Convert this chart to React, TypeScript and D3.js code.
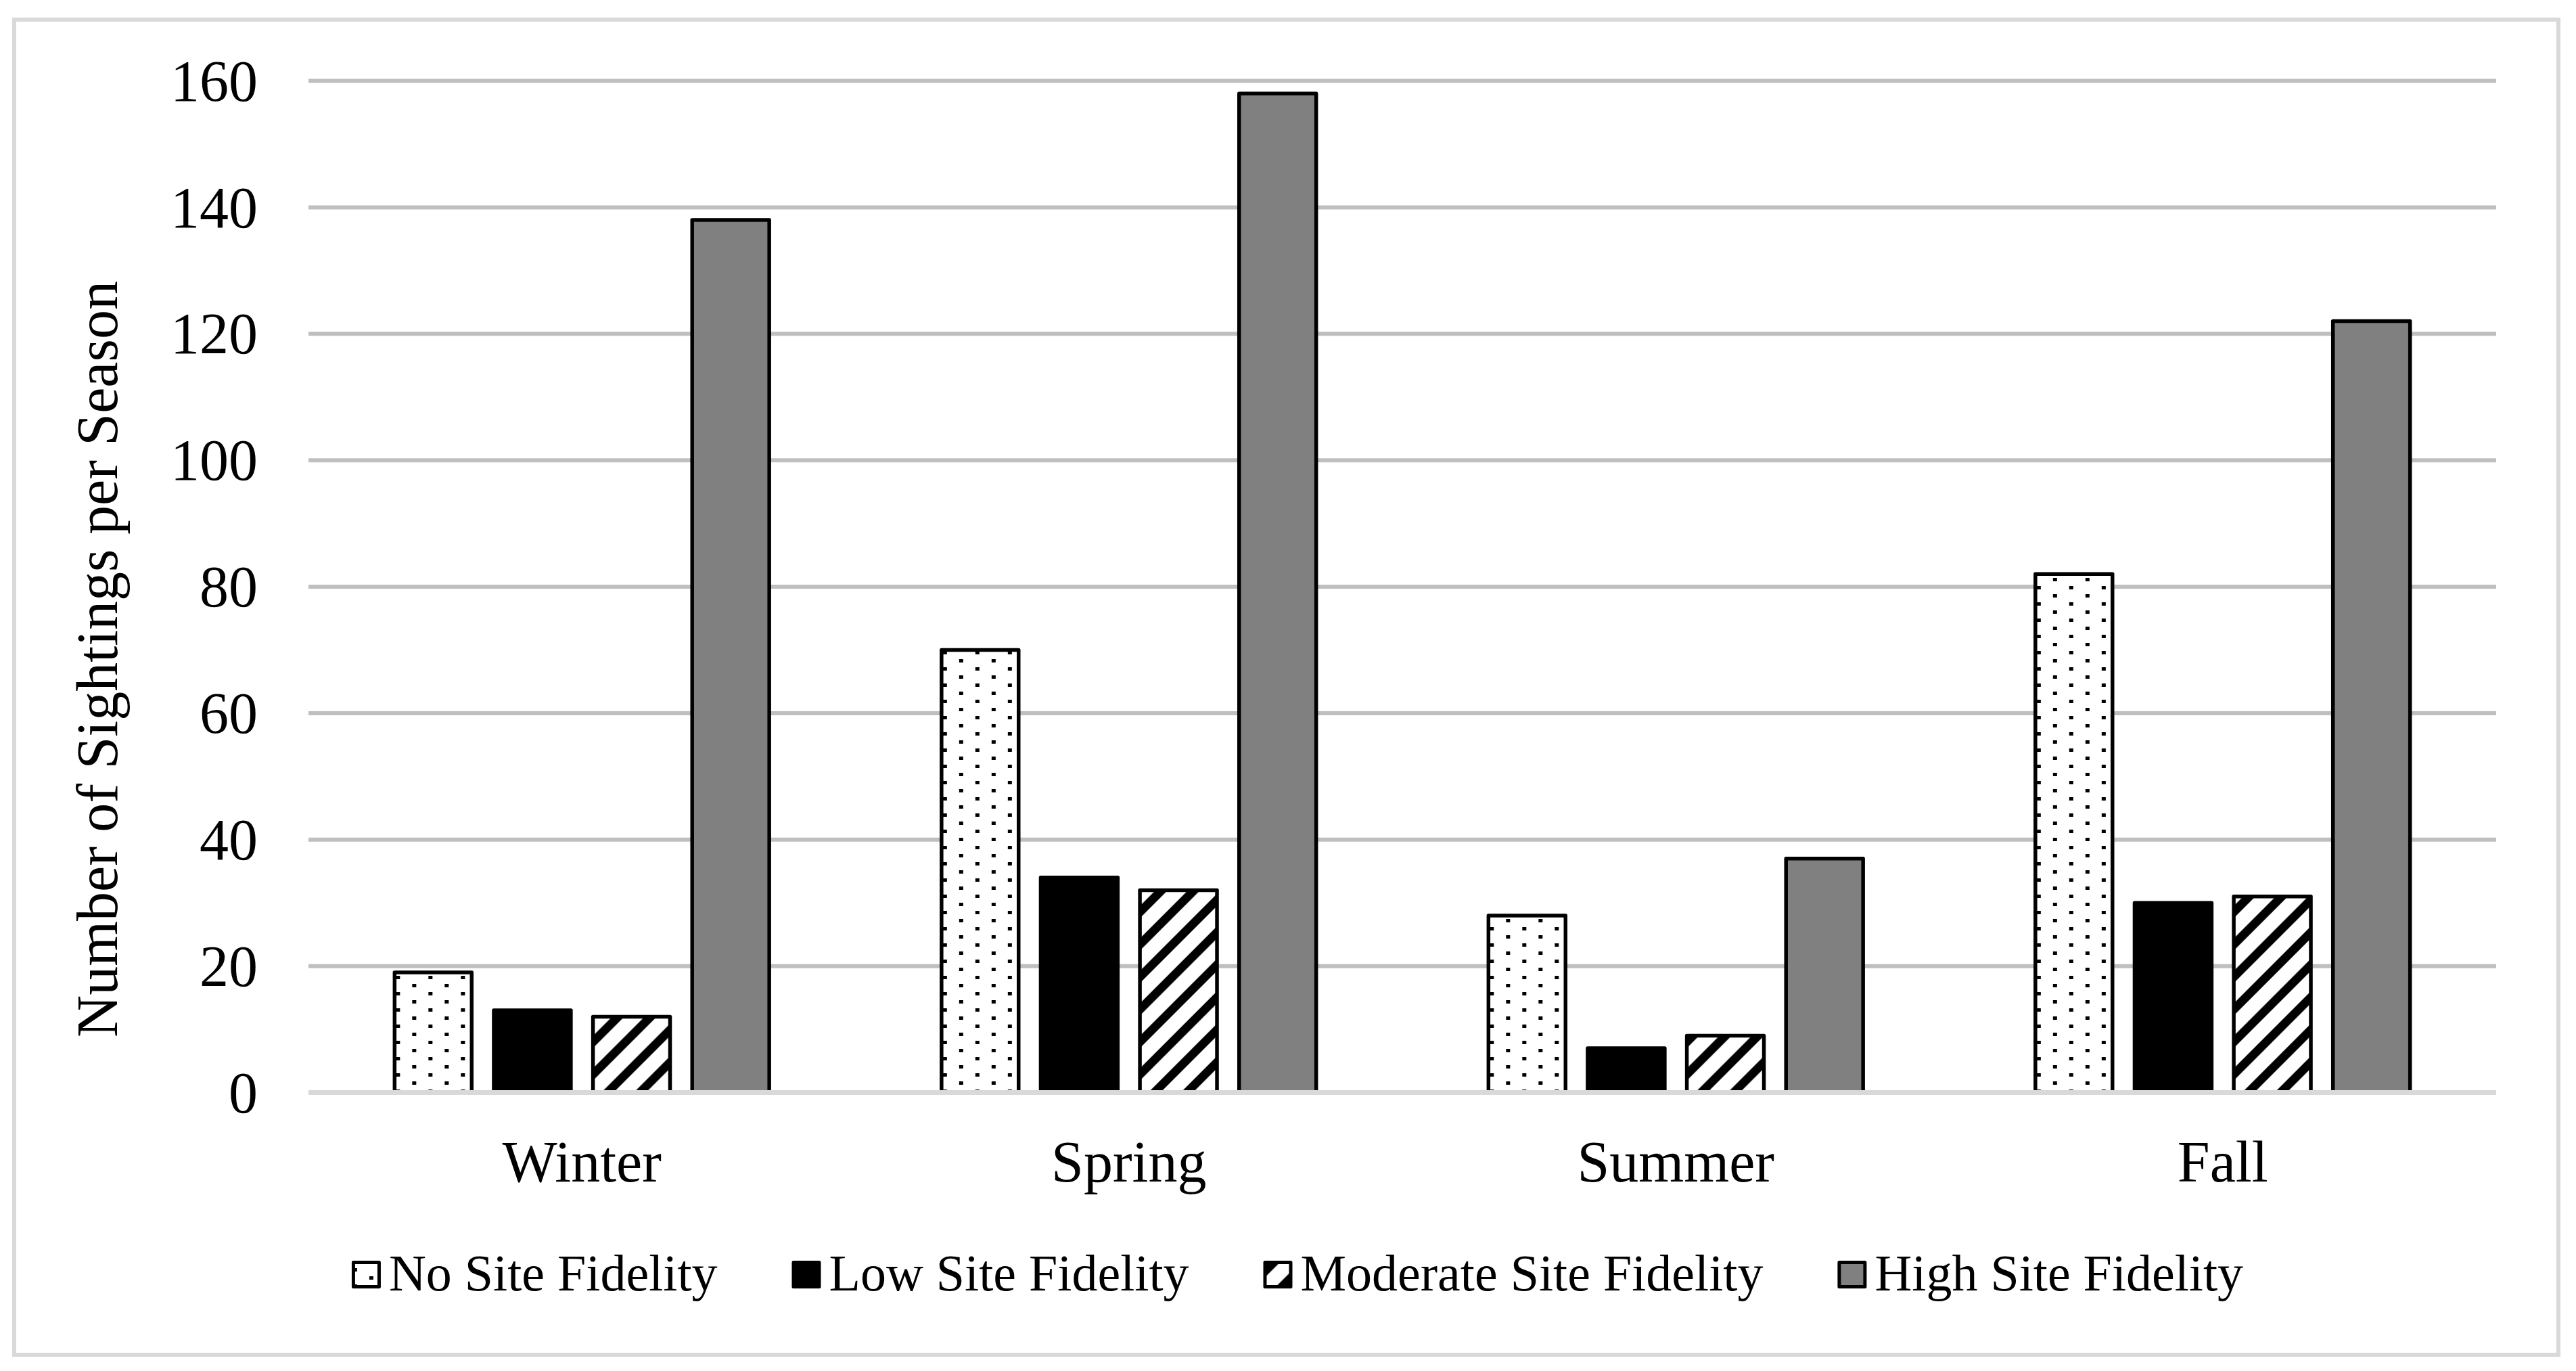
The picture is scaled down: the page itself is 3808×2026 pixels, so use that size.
import { useEffect, useRef } from 'react'
import * as d3 from 'd3'

// chart data
const seasons = ['Winter', 'Spring', 'Summer', 'Fall']
const seriesNames = ['No Site Fidelity', 'Low Site Fidelity', 'Moderate Site Fidelity', 'High Site Fidelity']
const noFidelity = [19, 70, 28, 82]
const lowFidelity = [13, 34, 7, 30]
const moderateFidelity = [12, 32, 9, 31]
const highFidelity = [138, 158, 37, 122]
const yTicks = [0, 20, 40, 60, 80, 100, 120, 140, 160]
const yTitle = 'Number of Sightings per Season'

const seriesValues = [noFidelity, lowFidelity, moderateFidelity, highFidelity]
const seriesFills = ['url(#dots)', '#000000', 'url(#hatch)', '#808080']

const width = 3808
const height = 2026
const font = '"Liberation Serif", "Times New Roman", serif'

export default function App() {
  const svgRef = useRef<SVGSVGElement>(null)

  useEffect(() => {
    document.body.style.margin = '0'
    if (!svgRef.current) return
    const svg = d3.select(svgRef.current)
    svg.selectAll('*').remove()

    const plot = { left: 456, right: 3690, top: 119.5, bottom: 1614.5 }

    // patterns
    const defs = svg.append('defs')
    const dots = defs
      .append('pattern')
      .attr('id', 'dots')
      .attr('patternUnits', 'userSpaceOnUse')
      .attr('width', 48)
      .attr('height', 24)
    dots.append('rect').attr('width', 48).attr('height', 24).attr('fill', '#fff')
    dots.append('rect').attr('x', 2).attr('y', 2).attr('width', 6).attr('height', 5).attr('fill', '#000')
    dots.append('rect').attr('x', 26).attr('y', 14).attr('width', 6).attr('height', 5).attr('fill', '#000')

    const hatch = defs
      .append('pattern')
      .attr('id', 'hatch')
      .attr('patternUnits', 'userSpaceOnUse')
      .attr('width', 48)
      .attr('height', 48)
    hatch.append('rect').attr('width', 48).attr('height', 48).attr('fill', '#fff')
    hatch.append('path').attr('d', 'M0,0 L18,0 L0,18 Z').attr('fill', '#000')
    hatch.append('path').attr('d', 'M48,0 L48,18 L18,48 L0,48 Z').attr('fill', '#000')

    // background + chart border
    svg.append('rect').attr('width', width).attr('height', height).attr('fill', '#fff')
    svg
      .append('rect')
      .attr('x', 21)
      .attr('y', 29)
      .attr('width', 3761)
      .attr('height', 1973)
      .attr('fill', '#fff')
      .attr('stroke', '#d9d9d9')
      .attr('stroke-width', 6)

    // Scales
    const y = d3.scaleLinear().domain([0, 160]).range([plot.bottom, plot.top])
    const x0 = d3
      .scaleBand<string>()
      .domain(seasons)
      .range([plot.left, plot.right])
      .paddingInner(0.315)
      .paddingOuter(0.1575)
    const x1 = d3
      .scaleBand<number>()
      .domain(d3.range(seriesNames.length))
      .range([0, x0.bandwidth()])
      .paddingInner(0.223)

    // gridlines
    svg
      .append('g')
      .selectAll('line')
      .data(yTicks.filter((t) => t > 0))
      .join('line')
      .attr('x1', plot.left)
      .attr('x2', plot.right)
      .attr('y1', (d) => y(d))
      .attr('y2', (d) => y(d))
      .attr('stroke', '#bfbfbf')
      .attr('stroke-width', 6)

    // tick labels
    svg
      .append('g')
      .selectAll('text')
      .data(yTicks)
      .join('text')
      .attr('x', 381)
      .attr('y', (d) => y(d))
      .attr('dy', '0.34em')
      .attr('text-anchor', 'end')
      .attr('font-family', font)
      .attr('font-size', 86)
      .attr('fill', '#000')
      .text((d) => d)

    // bars
    const groups = svg
      .append('g')
      .selectAll('g')
      .data(seasons)
      .join('g')
      .attr('transform', (d) => `translate(${x0(d)},0)`)

    groups
      .selectAll('rect')
      .data((_, i) => seriesValues.map((vals, s) => ({ s, v: vals[i] })))
      .join('rect')
      .attr('x', (d) => x1(d.s)!)
      .attr('width', x1.bandwidth())
      .attr('y', (d) => y(d.v))
      .attr('height', (d) => y(0) - y(d.v))
      .attr('fill', (d) => seriesFills[d.s])
      .attr('stroke', '#000')
      .attr('stroke-width', 5.5)
      .attr('stroke-linejoin', 'round')

    // x axis line
    svg
      .append('line')
      .attr('x1', plot.left)
      .attr('x2', plot.right)
      .attr('y1', y(0))
      .attr('y2', y(0))
      .attr('stroke', '#d9d9d9')
      .attr('stroke-width', 7)

    // category labels
    svg
      .append('g')
      .selectAll('text')
      .data(seasons)
      .join('text')
      .attr('x', (d) => x0(d)! + x0.bandwidth() / 2)
      .attr('y', 1746)
      .attr('text-anchor', 'middle')
      .attr('font-family', font)
      .attr('font-size', 86)
      .attr('fill', '#000')
      .text((d) => d)

    // y axis title
    svg
      .append('text')
      .attr('transform', 'translate(173,974) rotate(-90)')
      .attr('text-anchor', 'middle')
      .attr('font-family', font)
      .attr('font-size', 86)
      .attr('fill', '#000')
      .text(yTitle)

    // legend
    const legend = svg.append('g')
    const markerSize = 38
    const markerGap = 17
    const itemGap = 110
    let cursor = 0
    const items = seriesNames.map((name, i) => {
      const item = legend.append('g').attr('transform', `translate(${cursor},0)`)
      item
        .append('rect')
        .attr('x', 2.5)
        .attr('y', 1865.5)
        .attr('width', markerSize)
        .attr('height', markerSize - 2)
        .attr('fill', seriesFills[i])
        .attr('stroke', '#000')
        .attr('stroke-width', 5)
        .attr('stroke-linejoin', 'round')
      const label = item
        .append('text')
        .attr('x', markerSize + markerGap)
        .attr('y', 1907)
        .attr('font-family', font)
        .attr('font-size', 76)
        .attr('fill', '#000')
        .text(name)
      const w = (label.node() as SVGTextElement).getComputedTextLength()
      const itemWidth = markerSize + markerGap + w
      cursor += itemWidth + itemGap
      return item
    })
    const total = cursor - itemGap
    legend.attr('transform', `translate(${1918 - total / 2},0)`)
    void items
  }, [])

  return <svg ref={svgRef} width={width} height={height} style={{ display: 'block' }} />
}
